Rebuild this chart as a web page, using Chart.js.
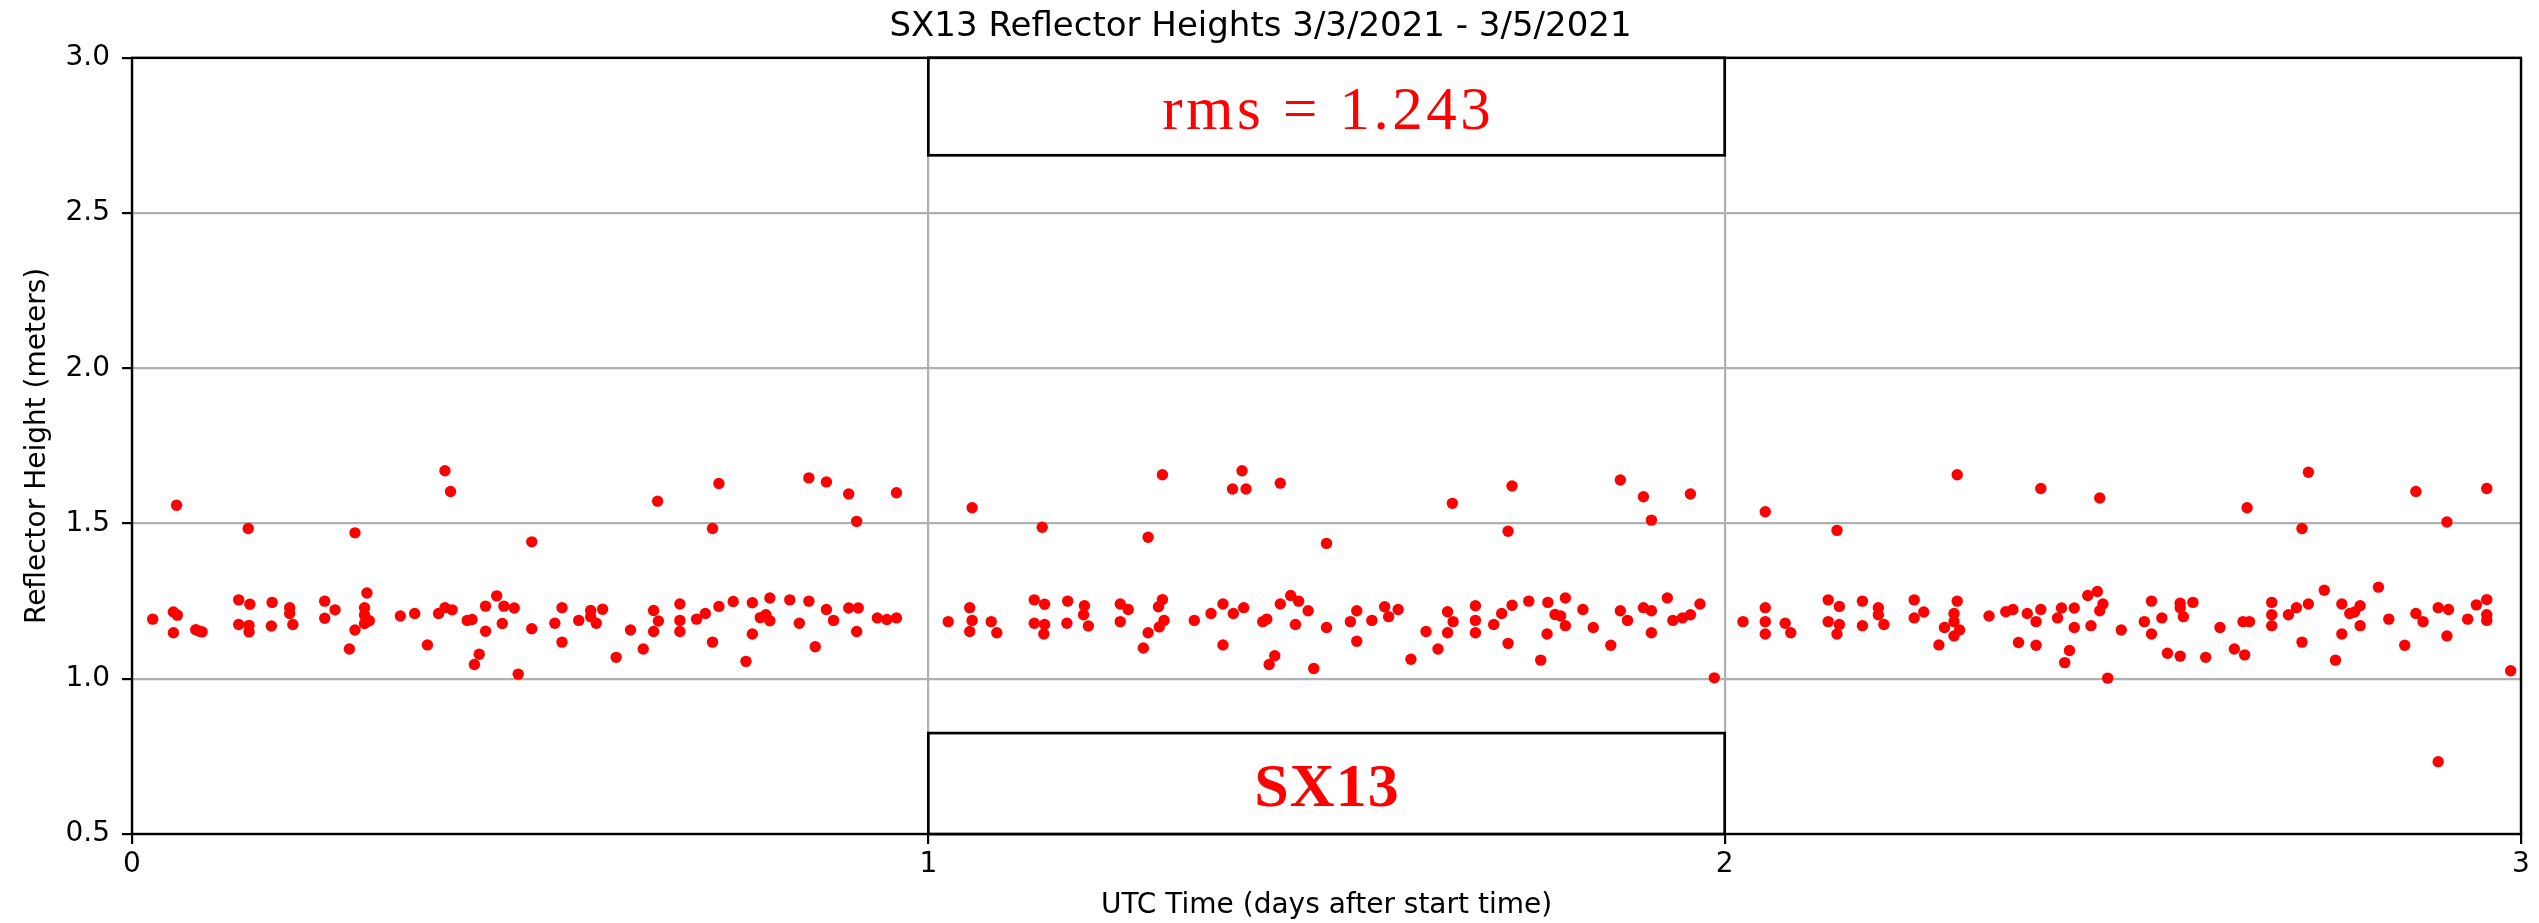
<!DOCTYPE html>
<html>
<head>
<meta charset="utf-8">
<script src="https://cdn.jsdelivr.net/npm/chart.js@4/dist/chart.umd.min.js"></script>
<style>
  html, body { margin: 0; padding: 0; background: #ffffff; }
  #wrap { width: 2539px; height: 923px; }
</style>
</head>
<body>
<div id="wrap"><canvas id="c" width="2539" height="923"></canvas></div>
<script>
// ---- Data ----
const day1Time = [0.026,0.056,0.052,0.057,0.052,0.080,0.085,0.088,0.146,0.134,0.148,0.134,0.147,0.147,0.176,0.175,0.198,0.198,0.202,0.242,0.255,0.242,0.280,0.295,0.292,0.292,0.298,0.292,0.280,0.273,0.337,0.355,0.371,0.385,0.393,0.400,0.393,0.402,0.421,0.427,0.444,0.444,0.436,0.430,0.458,0.467,0.480,0.465,0.485,0.502,0.502,
  0.540,0.531,0.540,0.561,0.576,0.576,0.583,0.591,0.608,0.626,0.642,0.660,0.655,0.661,0.655,0.688,0.688,0.688,0.709,0.720,0.729,0.737,0.737,0.729,0.755,0.771,0.779,0.779,0.789,0.796,0.801,0.801,0.826,0.838,0.850,0.850,0.858,0.872,0.872,0.881,0.900,0.910,0.900,0.912,0.910,0.936,0.948,0.960,0.960];
const day1Height = [1.192,1.559,1.215,1.205,1.148,1.158,1.153,1.151,1.484,1.254,1.240,1.175,1.172,1.151,1.246,1.170,1.229,1.210,1.175,1.250,1.222,1.195,1.470,1.276,1.229,1.205,1.187,1.178,1.157,1.096,1.202,1.210,1.109,1.210,1.670,1.603,1.229,1.222,1.188,1.191,1.234,1.153,1.079,1.046,1.267,1.234,1.228,1.178,1.015,1.441,1.161,
  1.229,1.179,1.118,1.188,1.220,1.200,1.179,1.224,1.069,1.157,1.096,1.572,1.220,1.186,1.152,1.241,1.188,1.152,1.192,1.210,1.484,1.629,1.233,1.118,1.249,1.056,1.245,1.144,1.197,1.206,1.187,1.260,1.254,1.179,1.647,1.250,1.103,1.634,1.223,1.188,1.595,1.507,1.228,1.228,1.152,1.196,1.191,1.196,1.599];

const day2Time = [1.025,1.055,1.052,1.055,1.052,1.079,1.086,1.143,1.133,1.146,1.133,1.146,1.145,1.175,1.174,1.196,1.195,1.201,1.241,1.251,1.241,1.276,1.294,1.294,1.289,1.296,1.290,1.276,1.270,1.334,1.355,1.370,1.370,1.383,1.394,1.382,1.399,1.396,1.442,1.420,1.425,1.435,1.428,1.442,1.455,1.465,1.461,1.477,1.484,1.500,1.500,1.530,1.538,1.538,
  1.557,1.573,1.578,1.590,1.606,1.625,1.640,1.658,1.652,1.659,1.652,1.687,1.687,1.687,1.710,1.720,1.733,1.728,1.733,1.728,1.754,1.769,1.778,1.777,1.800,1.787,1.794,1.800,1.822,1.835,1.857,1.869,1.869,1.878,1.898,1.908,1.898,1.908,1.908,1.928,1.935,1.947,1.957,1.957,1.969,1.987];
const day2Height = [1.184,1.551,1.229,1.188,1.152,1.184,1.148,1.488,1.254,1.240,1.179,1.175,1.144,1.250,1.179,1.235,1.206,1.170,1.241,1.223,1.184,1.456,1.657,1.255,1.232,1.188,1.167,1.148,1.099,1.188,1.210,1.241,1.109,1.210,1.670,1.611,1.611,1.229,1.630,1.184,1.192,1.074,1.046,1.241,1.268,1.250,1.175,1.219,1.033,1.436,1.165,1.184,1.219,1.121,
  1.188,1.232,1.200,1.223,1.063,1.152,1.096,1.565,1.216,1.184,1.148,1.235,1.188,1.148,1.175,1.210,1.621,1.475,1.237,1.114,1.250,1.060,1.246,1.144,1.260,1.207,1.202,1.171,1.223,1.165,1.108,1.640,1.219,1.188,1.586,1.511,1.229,1.219,1.148,1.260,1.188,1.196,1.206,1.595,1.241,1.003];

const day3Time = [2.023,2.051,2.051,2.051,2.051,2.076,2.083,2.141,2.130,2.144,2.130,2.144,2.141,2.173,2.173,2.193,2.193,2.200,2.238,2.238,2.250,2.269,2.276,2.292,2.292,2.288,2.288,2.295,2.288,2.332,2.353,2.362,2.369,2.380,2.391,2.391,2.397,2.397,2.418,2.423,2.439,2.439,2.433,2.427,2.456,2.468,2.475,2.471,2.460,2.471,2.481,2.498,2.536,2.527,2.549,2.536,2.556,2.572,2.572,
  2.572,2.576,2.588,2.604,2.622,2.640,2.653,2.656,2.651,2.659,2.687,2.687,2.687,2.708,2.718,2.733,2.733,2.725,2.725,2.753,2.767,2.775,2.775,2.785,2.798,2.791,2.798,2.821,2.834,2.854,2.868,2.868,2.877,2.896,2.907,2.896,2.909,2.907,2.933,2.944,2.957,2.957,2.957,2.957,2.987];
const day3Height = [1.184,1.538,1.229,1.184,1.144,1.179,1.148,1.478,1.254,1.233,1.184,1.175,1.144,1.250,1.171,1.229,1.206,1.175,1.254,1.196,1.215,1.109,1.165,1.657,1.250,1.210,1.184,1.157,1.138,1.202,1.216,1.223,1.117,1.210,1.184,1.108,1.613,1.223,1.196,1.228,1.228,1.165,1.091,1.052,1.268,1.281,1.241,1.219,1.171,1.582,1.002,1.157,1.250,1.184,1.196,1.144,1.082,1.243,1.073,
  1.229,1.200,1.246,1.069,1.165,1.096,1.077,1.551,1.184,1.184,1.246,1.206,1.171,1.206,1.229,1.241,1.665,1.484,1.118,1.285,1.060,1.241,1.144,1.210,1.235,1.215,1.171,1.295,1.192,1.108,1.603,1.210,1.184,0.733,1.505,1.229,1.223,1.138,1.192,1.238,1.613,1.255,1.206,1.188,1.026];

const xTickLabels = ['0', '1', '2', '3'];
const yTickLabels = ['0.5', '1.0', '1.5', '2.0', '2.5', '3.0'];

const titleText = 'SX13 Reflector Heights 3/3/2021 - 3/5/2021';
const xAxisTitle = 'UTC Time (days after start time)';
const yAxisTitle = 'Reflector Height (meters)';
const rmsText = 'rms = 1.243';
const stationText = 'SX13';

// ---- Build points ----
function zip(xs, ys) { return xs.map((x, i) => ({ x: x, y: ys[i] })); }
const points = [].concat(zip(day1Time, day1Height), zip(day2Time, day2Height), zip(day3Time, day3Height));

// annotation boxes in data coordinates
const boxes = [
  { x0: 1, x1: 2, y0: 2.686, y1: 3.0, textY: 2.772, text: rmsText, font: '61px "Liberation Serif", "Times New Roman", serif', spacing: 3.5 },
  { x0: 1, x1: 2, y0: 0.5, y1: 0.825, textY: 0.590, text: stationText, font: 'bold 62px "Liberation Serif", "Times New Roman", serif', spacing: 1 }
];

const overlayPlugin = {
  id: 'overlay',
  afterDatasetsDraw(chart) {
    const { ctx, chartArea: a, scales: { x, y } } = chart;
    ctx.save();
    // axes frame (all four spines)
    ctx.strokeStyle = '#000';
    ctx.lineWidth = 2.4;
    ctx.strokeRect(a.left, a.top, a.right - a.left, a.bottom - a.top);
    // text boxes
    boxes.forEach(b => {
      const px0 = x.getPixelForValue(b.x0), px1 = x.getPixelForValue(b.x1);
      const py0 = y.getPixelForValue(b.y1), py1 = y.getPixelForValue(b.y0);
      ctx.fillStyle = '#fff';
      ctx.fillRect(px0, py0, px1 - px0, py1 - py0);
      ctx.strokeStyle = '#000';
      ctx.lineWidth = 2.7;
      ctx.strokeRect(px0, py0, px1 - px0, py1 - py0);
      ctx.fillStyle = '#ff0000';
      ctx.font = b.font;
      ctx.textAlign = 'center';
      ctx.textBaseline = 'alphabetic';
      try { ctx.letterSpacing = b.spacing + 'px'; } catch (e) {}
      ctx.fillText(b.text, (px0 + px1) / 2 + b.spacing / 2, y.getPixelForValue(b.textY));
      try { ctx.letterSpacing = '0px'; } catch (e) {}
    });
    ctx.restore();
  }
};

const axisFont = { family: '"DejaVu Sans", sans-serif', size: 28 };

new Chart(document.getElementById('c'), {
  type: 'scatter',
  data: {
    datasets: [{
      data: points,
      backgroundColor: '#ff0000',
      borderColor: '#ff0000',
      borderWidth: 0,
      pointRadius: 5.7,
      pointHoverRadius: 5.7
    }]
  },
  options: {
    responsive: false,
    animation: false,
    devicePixelRatio: 1,
    layout: { padding: { left: 0, right: 18, top: 0, bottom: 0 } },
    plugins: {
      legend: { display: false },
      tooltip: { enabled: false },
      title: {
        display: true,
        text: titleText,
        color: '#000',
        font: { family: '"DejaVu Sans", sans-serif', size: 34, weight: 'normal' },
        padding: { top: 7, bottom: 10 }
      }
    },
    scales: {
      x: {
        type: 'linear',
        position: 'bottom',
        min: 0, max: 3,
        afterFit(s) { s.height = 89; },
        grid: { color: '#b0b0b0', lineWidth: 2.2, tickColor: '#000', tickLength: 10, tickWidth: 2.2 },
        border: { display: false },
        ticks: {
          stepSize: 1, autoSkip: false, maxRotation: 0, padding: 4,
          color: '#000', font: axisFont,
          callback: (v, i) => xTickLabels[i]
        },
        title: { display: true, text: xAxisTitle, color: '#000', font: axisFont, padding: { top: 0, bottom: 0 } }
      },
      y: {
        type: 'linear',
        min: 0.5, max: 3.0,
        afterFit(s) { s.width = 132; },
        grid: { color: '#b0b0b0', lineWidth: 2.2, tickColor: '#000', tickLength: 10, tickWidth: 2.2 },
        border: { display: false },
        ticks: {
          stepSize: 0.5, autoSkip: false, padding: 12,
          color: '#000', font: axisFont,
          callback: (v, i) => yTickLabels[i]
        },
        title: { display: true, text: yAxisTitle, color: '#000', font: axisFont, padding: { top: 21, bottom: 0 } }
      }
    }
  },
  plugins: [overlayPlugin]
});
</script>
</body>
</html>
